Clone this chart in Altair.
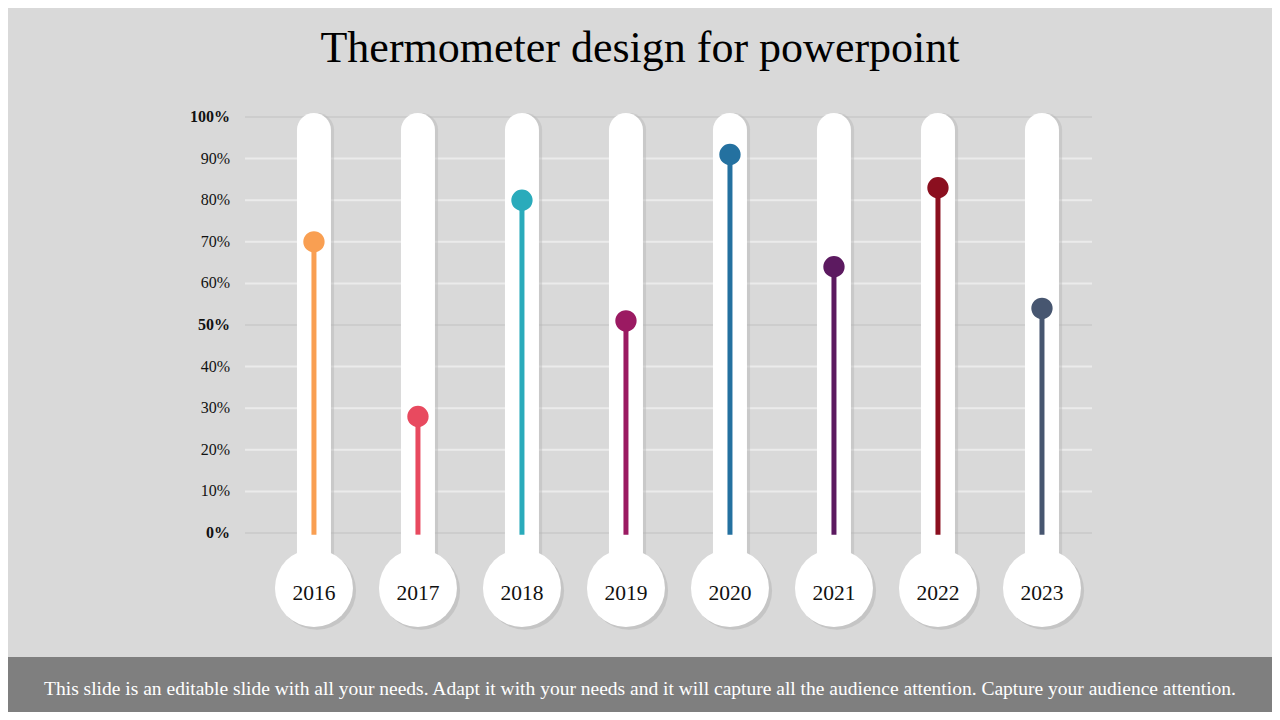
import altair as alt
import pandas as pd

years = ["2016", "2017", "2018", "2019", "2020", "2021", "2022", "2023"]
values = [70, 28, 80, 51, 91, 64, 83, 54]
colors = ["#f99f52", "#e84a5f", "#2aabbb", "#9b1a62", "#2471a0", "#5c1a60", "#8b0f1f", "#475670"]
y_ticks = [0, 10, 20, 30, 40, 50, 60, 70, 80, 90, 100]
title_text = "Thermometer design for powerpoint"
footer_text = ("This slide is an editable slide with all your needs. Adapt it with your needs "
               "and it will capture all the audience attention. Capture your audience attention.")

df = pd.DataFrame({"idx": list(range(len(years))), "year": years, "value": values, "color": colors})
grid_df = pd.DataFrame({"tick": y_ticks})

W, H = 847, 416
SERIF = "Liberation Serif"
X0, X1 = -0.663, 7.481

x_scale = alt.Scale(domain=[X0, X1], nice=False, zero=False, padding=0)
y_scale = alt.Scale(domain=[0, 100], nice=False, zero=False, padding=0)


def Xf(field):
    return alt.X(f"{field}:Q", scale=x_scale, axis=None)


def Yf(field):
    return alt.Y(f"{field}:Q", scale=y_scale, axis=None)


gbase = alt.Chart(grid_df).transform_calculate(
    gx0=f"{X0}", gx1=f"{X1}", label="datum.tick + '%'",
    major="datum.tick % 50 === 0")
grid_minor = gbase.transform_filter("!datum.major").mark_rule(strokeWidth=2, color="#ebebeb").encode(
    x=Xf("gx0"), x2="gx1:Q", y=Yf("tick"))
grid_major = gbase.transform_filter("datum.major").mark_rule(strokeWidth=2, color="#cdcdcd").encode(
    x=Xf("gx0"), x2="gx1:Q", y=Yf("tick"))
lab_minor = gbase.transform_filter("!datum.major").mark_text(
    font=SERIF, fontSize=16, color="#111111", align="right", baseline="middle", dx=-15).encode(
    x=Xf("gx0"), y=Yf("tick"), text="label:N")
lab_major = gbase.transform_filter("datum.major").mark_text(
    font=SERIF, fontSize=16, fontWeight="bold", color="#111111", align="right", baseline="middle", dx=-15).encode(
    x=Xf("gx0"), y=Yf("tick"), text="label:N")

base = alt.Chart(df).transform_calculate(
    ttop="100.95", tbot="-10", bulb_y="-13.2", year_y="-16.1", zero="-0.4",
    sx="datum.idx + 0.03", sbulb_y="-13.9")

tube_shadow = base.mark_bar(size=34, color="#b5b5b5", opacity=0.45,
                            cornerRadiusTopLeft=17, cornerRadiusTopRight=17).encode(
    x=Xf("sx"), y=Yf("ttop"), y2="tbot:Q")
bulb_shadow = base.mark_circle(size=6084, color="#b5b5b5", opacity=0.55).encode(
    x=Xf("sx"), y=Yf("sbulb_y"))
tube = base.mark_bar(size=34, color="white", cornerRadiusTopLeft=17, cornerRadiusTopRight=17).encode(
    x=Xf("idx"), y=Yf("ttop"), y2="tbot:Q")
bulb = base.mark_circle(size=6084, color="white", opacity=1).encode(
    x=Xf("idx"), y=Yf("bulb_y"))
year_text = base.mark_text(font=SERIF, fontSize=21.5, color="#111111", baseline="alphabetic").encode(
    x=Xf("idx"), y=Yf("year_y"), text="year:N")

stem = base.mark_rule(strokeWidth=5).encode(
    x=Xf("idx"), y=Yf("value"), y2="zero:Q",
    color=alt.Color("color:N", scale=None))
dot = base.mark_circle(size=455, opacity=1).encode(
    x=Xf("idx"), y=Yf("value"),
    color=alt.Color("color:N", scale=None))

title = alt.Chart(pd.DataFrame({"t": [title_text]})).mark_text(
    font=SERIF, fontSize=44, color="#000000", baseline="alphabetic", align="center").encode(
    x=alt.value(395), y=alt.value(-55), text="t:N")

band = alt.Chart(pd.DataFrame({"b": [0]})).mark_rect(color="#7f7f7f").encode(
    x=alt.value(-240), x2=alt.value(1030), y=alt.value(540), y2=alt.value(600))
footer = alt.Chart(pd.DataFrame({"t": [footer_text]})).mark_text(
    font=SERIF, fontSize=19.5, color="#ffffff", baseline="alphabetic", align="center").encode(
    x=alt.value(395), y=alt.value(578), text="t:N")

chart = alt.layer(
    grid_minor, grid_major, lab_minor, lab_major,
    tube_shadow, bulb_shadow, tube, bulb, year_text, stem, dot, title, band, footer
).properties(
    width=W, height=H,
    background="#d9d9d9",
    padding={"left": 237, "top": 109, "right": 180, "bottom": 179},
    autosize=alt.AutoSizeParams(type="none"),
).configure_view(stroke=None)

chart.save("out.html", embed_options={"renderer": "svg", "actions": False})
